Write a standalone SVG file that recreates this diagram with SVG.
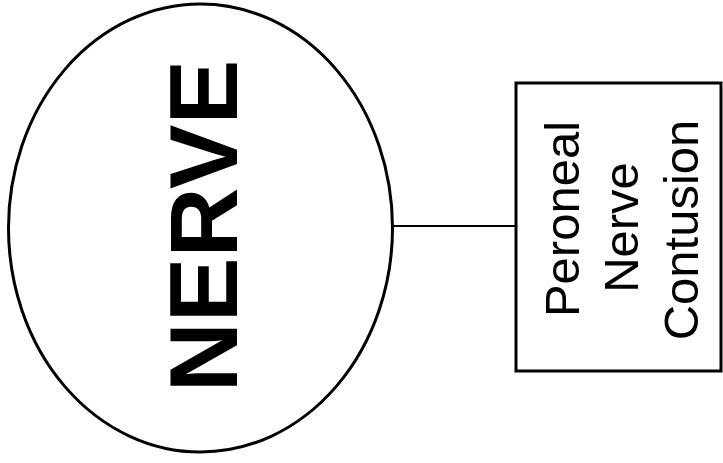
<svg xmlns="http://www.w3.org/2000/svg" width="723" height="463" viewBox="0 0 723 463">
<style>
.shape{fill:#fff;stroke:#000;stroke-width:3}
.edge{stroke:#000;stroke-width:2;fill:none}
.big{font-family:"Liberation Sans",Arial,sans-serif;font-weight:bold;font-size:97px;fill:#000}
.lbl{font-family:"Liberation Sans",Arial,sans-serif;font-size:49px;fill:#000}
</style>
<rect width="723" height="463" fill="#fff"/>
<g id="connectors">
<line class="edge" x1="394" y1="226" x2="516" y2="226"/>
</g>
<g id="nerve">
<ellipse class="shape" cx="200.5" cy="228" rx="192" ry="224"/>
<text class="big" text-anchor="middle" transform="translate(237,226) rotate(-90)">NERVE</text>
</g>
<g id="peroneal">
<rect class="shape" x="516" y="83" width="205" height="288" stroke-width="2.5"/>
<text class="lbl" text-anchor="middle" transform="translate(579,219) rotate(-90)">Peroneal</text>
<text class="lbl" text-anchor="middle" transform="translate(638,227.5) rotate(-90)">Nerve</text>
<text class="lbl" text-anchor="middle" transform="translate(698,230) rotate(-90)">Contusion</text>
</g>
</svg>
